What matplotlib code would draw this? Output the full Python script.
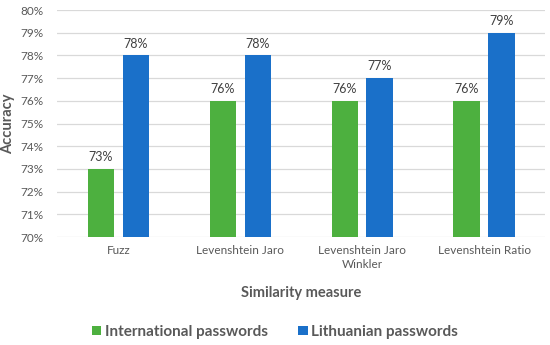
import matplotlib
matplotlib.use("Agg")
import matplotlib.pyplot as plt
import numpy as np
from matplotlib.ticker import FuncFormatter

categories = ["Fuzz", "Levenshtein Jaro", "Levenshtein Jaro\nWinkler", "Levenshtein Ratio"]
international = [73, 76, 76, 76]
lithuanian = [78, 78, 77, 79]
series_names = ["International passwords", "Lithuanian passwords"]
yticks = list(range(70, 81))

plt.rcParams['font.family'] = ['Lato', 'DejaVu Sans']

fig = plt.figure(figsize=(5.5, 3.45), dpi=100)
ax = fig.add_axes([0.1045, 0.313, 0.8865, 0.658])

x = np.arange(len(categories))
w = 0.217
off = 0.143
green = '#4DB03F'
blue = '#1A70C9'
b1 = ax.bar(x - off, international, w, color=green, label=series_names[0], zorder=3)
b2 = ax.bar(x + off, lithuanian, w, color=blue, label=series_names[1], zorder=3)

for bars, vals in ((b1, international), (b2, lithuanian)):
    for b, v in zip(bars, vals):
        ax.text(b.get_x() + b.get_width() / 2, v + 0.25, f"{v}%", ha='center', va='bottom',
                fontsize=9, color='#404040')

ax.set_xlim(-0.5, len(categories) - 0.5)
ax.set_ylim(70, 80)
ax.set_yticks(yticks)
ax.yaxis.set_major_formatter(FuncFormatter(lambda v, p: f"{int(v)}%"))
ax.set_xticks(x)
ax.set_xticklabels(categories, fontsize=8.5, color='#595959', linespacing=1.3)
ax.tick_params(axis='y', labelsize=8.5, labelcolor='#595959', length=0, pad=10)
ax.tick_params(axis='x', length=0, pad=6)
ax.grid(axis='y', color='#D9D9D9', linewidth=0.9, zorder=0)
for s in ax.spines.values():
    s.set_visible(False)

ax.set_ylabel("Accuracy", fontsize=10.5, fontweight='bold', color='#595959', labelpad=4)
fig.text(0.5 * (0.1045 + 0.991), 1 - 293 / 345, "Similarity measure", ha='center', va='center',
         fontsize=10.5, fontweight='bold', color='#595959')

leg = fig.legend(handles=[b1, b2], labels=series_names, loc='center', ncol=2,
                 bbox_to_anchor=(0.5, 1 - 332 / 345), frameon=False,
                 prop={'size': 11, 'weight': 'bold'}, handlelength=0.6, handleheight=0.6,
                 handletextpad=0.25, columnspacing=2.0, labelcolor='#595959')

fig.savefig("out.png", dpi=100)
